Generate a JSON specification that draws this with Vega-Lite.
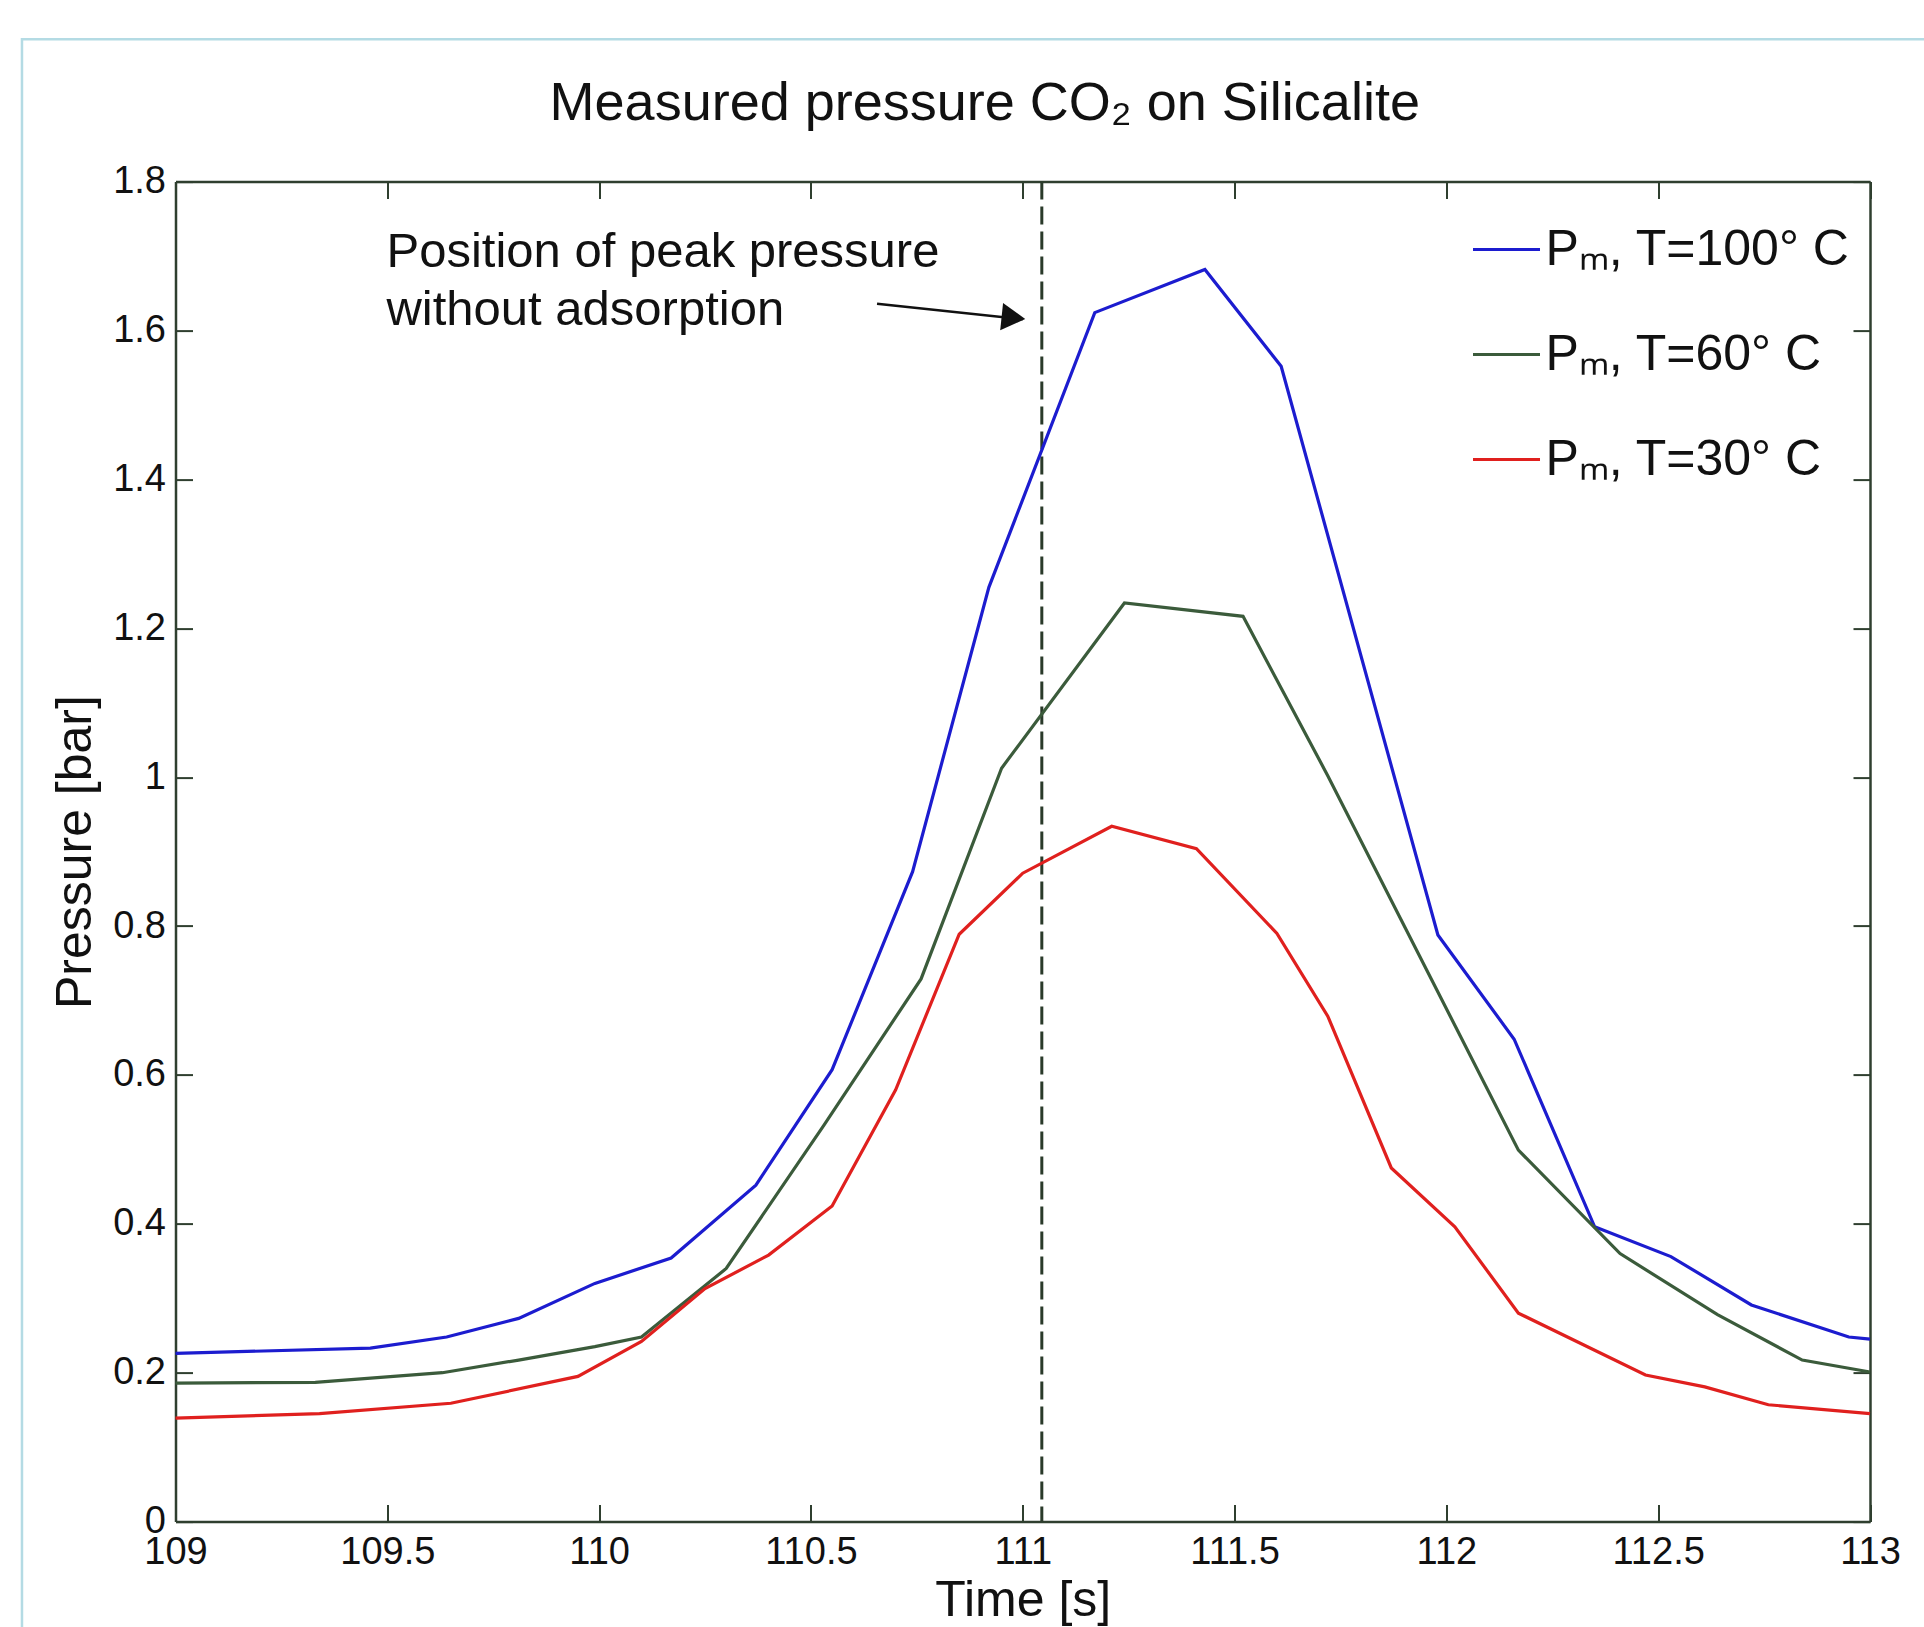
{
  "$schema": "https://vega.github.io/schema/vega-lite/v6.json",
  "width": 1694.5,
  "height": 1340,
  "autosize": "none",
  "padding": {"left": 175.5, "top": 181.6, "right": 54, "bottom": 105.4},
  "background": "white",
  "config": {"font": "Liberation Sans", "view": {"stroke": null}},
  "title": {"text": "Measured pressure CO₂ on Silicalite", "fontSize": 54, "fontWeight": "normal", "color": "#111111", "anchor": "middle", "frame": "group", "baseline": "alphabetic", "offset": -136, "dx": -38},
  "datasets": {
    "curves": [
      {"t": 109.0, "p": 0.226, "s": "Pₘ, T=100° C"},
      {"t": 109.46, "p": 0.233, "s": "Pₘ, T=100° C"},
      {"t": 109.64, "p": 0.248, "s": "Pₘ, T=100° C"},
      {"t": 109.81, "p": 0.273, "s": "Pₘ, T=100° C"},
      {"t": 109.99, "p": 0.32, "s": "Pₘ, T=100° C"},
      {"t": 110.17, "p": 0.354, "s": "Pₘ, T=100° C"},
      {"t": 110.37, "p": 0.452, "s": "Pₘ, T=100° C"},
      {"t": 110.55, "p": 0.607, "s": "Pₘ, T=100° C"},
      {"t": 110.74, "p": 0.873, "s": "Pₘ, T=100° C"},
      {"t": 110.92, "p": 1.255, "s": "Pₘ, T=100° C"},
      {"t": 111.17, "p": 1.624, "s": "Pₘ, T=100° C"},
      {"t": 111.43, "p": 1.682, "s": "Pₘ, T=100° C"},
      {"t": 111.61, "p": 1.552, "s": "Pₘ, T=100° C"},
      {"t": 111.98, "p": 0.788, "s": "Pₘ, T=100° C"},
      {"t": 112.16, "p": 0.648, "s": "Pₘ, T=100° C"},
      {"t": 112.35, "p": 0.396, "s": "Pₘ, T=100° C"},
      {"t": 112.53, "p": 0.356, "s": "Pₘ, T=100° C"},
      {"t": 112.72, "p": 0.291, "s": "Pₘ, T=100° C"},
      {"t": 112.95, "p": 0.248, "s": "Pₘ, T=100° C"},
      {"t": 113.0, "p": 0.245, "s": "Pₘ, T=100° C"},
      {"t": 109.0, "p": 0.186, "s": "Pₘ, T=60° C"},
      {"t": 109.33, "p": 0.187, "s": "Pₘ, T=60° C"},
      {"t": 109.63, "p": 0.2, "s": "Pₘ, T=60° C"},
      {"t": 109.81, "p": 0.217, "s": "Pₘ, T=60° C"},
      {"t": 109.99, "p": 0.235, "s": "Pₘ, T=60° C"},
      {"t": 110.1, "p": 0.248, "s": "Pₘ, T=60° C"},
      {"t": 110.3, "p": 0.34, "s": "Pₘ, T=60° C"},
      {"t": 110.53, "p": 0.532, "s": "Pₘ, T=60° C"},
      {"t": 110.76, "p": 0.729, "s": "Pₘ, T=60° C"},
      {"t": 110.95, "p": 1.012, "s": "Pₘ, T=60° C"},
      {"t": 111.24, "p": 1.234, "s": "Pₘ, T=60° C"},
      {"t": 111.52, "p": 1.216, "s": "Pₘ, T=60° C"},
      {"t": 111.72, "p": 1.002, "s": "Pₘ, T=60° C"},
      {"t": 112.17, "p": 0.499, "s": "Pₘ, T=60° C"},
      {"t": 112.41, "p": 0.36, "s": "Pₘ, T=60° C"},
      {"t": 112.64, "p": 0.278, "s": "Pₘ, T=60° C"},
      {"t": 112.84, "p": 0.217, "s": "Pₘ, T=60° C"},
      {"t": 113.0, "p": 0.201, "s": "Pₘ, T=60° C"},
      {"t": 109.0, "p": 0.139, "s": "Pₘ, T=30° C"},
      {"t": 109.34, "p": 0.145, "s": "Pₘ, T=30° C"},
      {"t": 109.65, "p": 0.159, "s": "Pₘ, T=30° C"},
      {"t": 109.95, "p": 0.195, "s": "Pₘ, T=30° C"},
      {"t": 110.1, "p": 0.242, "s": "Pₘ, T=30° C"},
      {"t": 110.25, "p": 0.313, "s": "Pₘ, T=30° C"},
      {"t": 110.4, "p": 0.358, "s": "Pₘ, T=30° C"},
      {"t": 110.55, "p": 0.424, "s": "Pₘ, T=30° C"},
      {"t": 110.7, "p": 0.58, "s": "Pₘ, T=30° C"},
      {"t": 110.85, "p": 0.789, "s": "Pₘ, T=30° C"},
      {"t": 111.0, "p": 0.871, "s": "Pₘ, T=30° C"},
      {"t": 111.21, "p": 0.934, "s": "Pₘ, T=30° C"},
      {"t": 111.41, "p": 0.904, "s": "Pₘ, T=30° C"},
      {"t": 111.6, "p": 0.79, "s": "Pₘ, T=30° C"},
      {"t": 111.72, "p": 0.679, "s": "Pₘ, T=30° C"},
      {"t": 111.87, "p": 0.475, "s": "Pₘ, T=30° C"},
      {"t": 112.02, "p": 0.396, "s": "Pₘ, T=30° C"},
      {"t": 112.17, "p": 0.28, "s": "Pₘ, T=30° C"},
      {"t": 112.47, "p": 0.197, "s": "Pₘ, T=30° C"},
      {"t": 112.61, "p": 0.181, "s": "Pₘ, T=30° C"},
      {"t": 112.76, "p": 0.157, "s": "Pₘ, T=30° C"},
      {"t": 113.0, "p": 0.145, "s": "Pₘ, T=30° C"}
    ],
    "frame": [{"t": 108.6376, "t2": 113.3, "p": -0.25, "p2": 1.9912}],
    "peak": [{"t": 111.045}],
    "arrow": [{"t": 110.656, "p": 1.636, "t2": 111.0, "p2": 1.615}],
    "head": [{"t": 110.978, "p": 1.617}],
    "notes": [
      {"t": 109.498, "p": 1.685, "label": "Position of peak pressure"},
      {"t": 109.498, "p": 1.607, "label": "without adsorption"}
    ]
  },
  "layer": [
    {
      "data": {"name": "frame"},
      "mark": {"type": "rect", "fill": null, "stroke": "#b4dbe4", "strokeWidth": 2.5, "clip": false},
      "encoding": {
        "x": {"field": "t", "type": "quantitative", "scale": {"domain": [109, 113], "nice": false, "zero": false}, "axis": null},
        "x2": {"field": "t2"},
        "y": {"field": "p", "type": "quantitative", "scale": {"domain": [0, 1.8], "nice": false}, "axis": null},
        "y2": {"field": "p2"}
      }
    },
    {
      "data": {"name": "peak"},
      "mark": {"type": "rule", "strokeDash": [18, 7], "strokeWidth": 3, "color": "#2a3a2a"},
      "encoding": {
        "x": {"field": "t", "type": "quantitative", "scale": {"domain": [109, 113], "nice": false, "zero": false}, "axis": null}
      }
    },
    {
      "data": {"name": "curves"},
      "mark": {"type": "line", "strokeWidth": 3.2},
      "encoding": {
        "x": {"field": "t", "type": "quantitative", "scale": {"domain": [109, 113], "nice": false, "zero": false},
          "axis": {"orient": "bottom", "title": "Time [s]", "values": [109, 109.5, 110, 110.5, 111, 111.5, 112, 112.5, 113], "format": "~g",
            "labelFlush": false, "labelOverlap": false, "labelFontSize": 38, "labelColor": "#111111", "labelPadding": 29,
            "tickSize": -17, "tickWidth": 2, "tickColor": "#2f3f2f", "domainColor": "#2f3f2f", "domainWidth": 2.5, "grid": false,
            "titleFontSize": 50, "titleFontWeight": "normal", "titleColor": "#111111", "titlePadding": 4}},
        "y": {"field": "p", "type": "quantitative", "scale": {"domain": [0, 1.8], "nice": false},
          "axis": {"orient": "left", "title": "Pressure [bar]", "values": [0, 0.2, 0.4, 0.6, 0.8, 1, 1.2, 1.4, 1.6, 1.8], "format": "~g",
            "labelFlush": false, "labelOverlap": false, "labelFontSize": 38, "labelColor": "#111111", "labelPadding": 27,
            "tickSize": -17, "tickWidth": 2, "tickColor": "#2f3f2f", "domainColor": "#2f3f2f", "domainWidth": 2.5, "grid": false,
            "titleFontSize": 50, "titleFontWeight": "normal", "titleColor": "#111111", "titlePadding": 12}},
        "color": {"field": "s", "type": "nominal",
          "scale": {"domain": ["Pₘ, T=100° C", "Pₘ, T=60° C", "Pₘ, T=30° C"], "range": ["#1c1ccf", "#3b5b3b", "#e0201e"]},
          "legend": {"orient": "none", "legendX": 1296, "legendY": 33, "title": null, "symbolType": "stroke", "symbolSize": 4489,
            "symbolStrokeWidth": 3, "labelFontSize": 50, "labelColor": "#111111", "rowPadding": 45, "padding": 0, "labelLimit": 0, "labelOffset": 4}}
      }
    },
    {
      "data": {"name": "arrow"},
      "mark": {"type": "rule", "strokeWidth": 2.5, "color": "#111111"},
      "encoding": {
        "x": {"field": "t", "type": "quantitative", "scale": {"domain": [109, 113], "nice": false, "zero": false},
          "axis": {"orient": "top", "title": null, "labels": false, "values": [109, 109.5, 110, 110.5, 111, 111.5, 112, 112.5, 113],
            "tickSize": -17, "tickWidth": 2, "tickColor": "#2f3f2f", "domainColor": "#2f3f2f", "domainWidth": 2.5, "grid": false}},
        "y": {"field": "p", "type": "quantitative", "scale": {"domain": [0, 1.8], "nice": false},
          "axis": {"orient": "right", "title": null, "labels": false, "values": [0, 0.2, 0.4, 0.6, 0.8, 1, 1.2, 1.4, 1.6, 1.8],
            "tickSize": -17, "tickWidth": 2, "tickColor": "#2f3f2f", "domainColor": "#2f3f2f", "domainWidth": 2.5, "grid": false}},
        "x2": {"field": "t2"},
        "y2": {"field": "p2"}
      }
    },
    {
      "data": {"name": "head"},
      "mark": {"type": "point", "shape": "triangle-right", "filled": true, "size": 750, "angle": 6, "color": "#111111", "opacity": 1},
      "encoding": {
        "x": {"field": "t", "type": "quantitative", "axis": null},
        "y": {"field": "p", "type": "quantitative", "axis": null}
      }
    },
    {
      "data": {"name": "notes"},
      "mark": {"type": "text", "align": "left", "baseline": "alphabetic", "fontSize": 49, "color": "#111111"},
      "encoding": {
        "x": {"field": "t", "type": "quantitative", "axis": null},
        "y": {"field": "p", "type": "quantitative", "axis": null},
        "text": {"field": "label"}
      }
    }
  ],
  "resolve": {"axis": {"x": "independent", "y": "independent"}}
}
